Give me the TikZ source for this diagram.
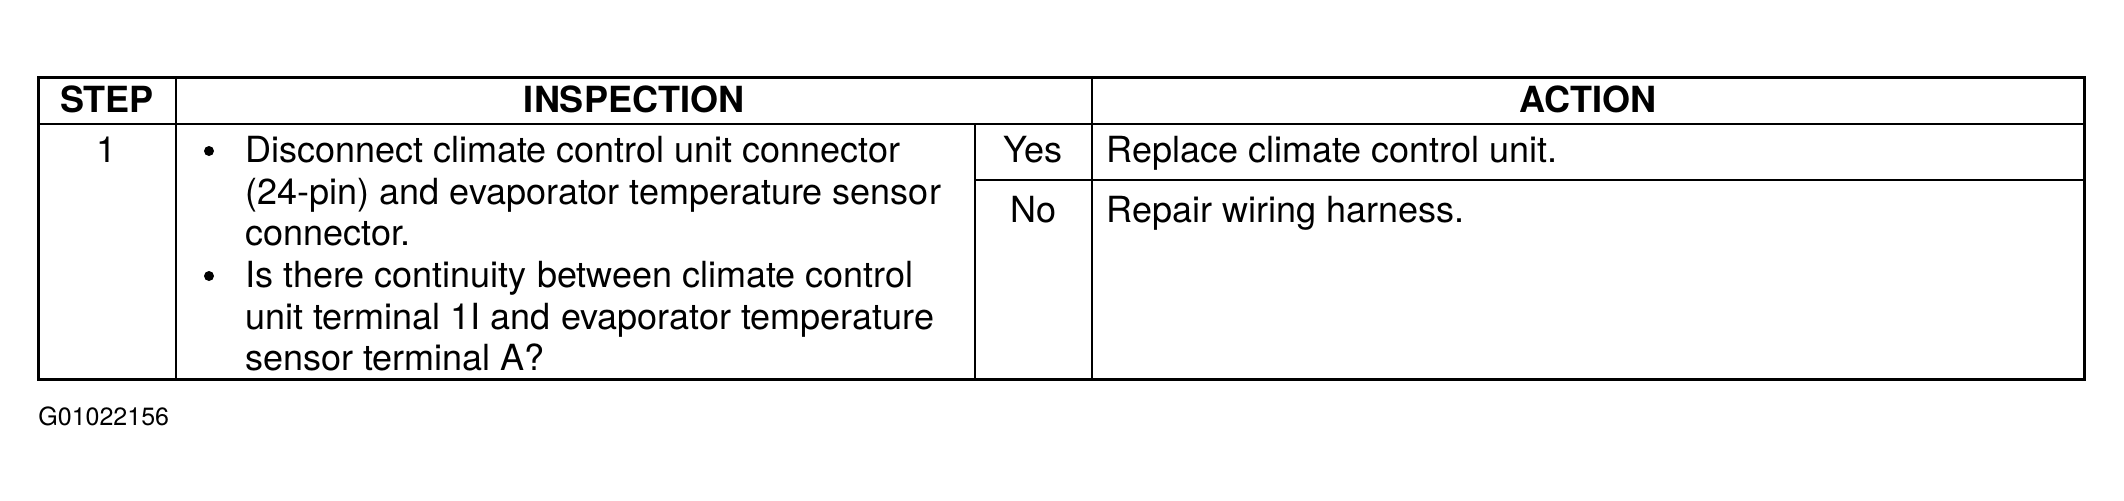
\documentclass[tikz,border=0pt]{standalone}
\usepackage{fontspec}
\setmainfont{TeX Gyre Heros}
\usepackage{tikz}

\begin{document}
\begin{tikzpicture}[x=0.5pt,y=-0.5pt,inner sep=0pt,thin]
                \tikzset{cell/.style={anchor=base, font=\fontsize{18}{20.8}\selectfont},
                         head/.style={cell, font=\fontsize{18}{20.8}\selectfont\bfseries},
                         line/.style={cell, anchor=base west},
                         dot/.style={circle, fill, minimum size=5pt},
                         outer/.style={line width=1.5pt},
                         inner/.style={line width=0.8pt}}
                \useasboundingbox (0,0) rectangle (2124,500);
                \draw[outer] (38,77) rectangle (2084,379);
                \draw[inner, line width=1.2pt] (38,124) -- (2084,124);
                \draw[inner] (176,77) -- (176,379);
                \draw[inner] (1092,77) -- (1092,379);
                \draw[inner] (975,124) -- (975,379);
                \draw[inner, line width=1pt] (975,180) -- (2084,180);
                \node[head] (S) at (107,112) {STEP};
                \node[head] (I) at (634,112) {INSPECTION};
                \node[head] (A) at (1588,112) {ACTION};
                \node[cell] (N) at (107,162) {1};
                \node[dot] (B1) at (209,151) {};
                \node[line] (L1) at (245,162) {Disconnect climate control unit connector};
                \node[line] (L2) at (245,204) {(24-pin) and evaporator temperature sensor};
                \node[line] (L3) at (245,245) {connector.};
                \node[dot] (B2) at (209,276) {};
                \node[line] (L4) at (245,287) {Is there continuity between climate control};
                \node[line] (L5) at (245,329) {unit terminal 1I and evaporator temperature};
                \node[line] (L6) at (245,370) {sensor terminal A?};
                \node[cell] (Y) at (1033,162) {Yes};
                \node[cell] (No) at (1033,222) {No};
                \node[line] (R1) at (1106,162) {Replace climate control unit.};
                \node[line] (R2) at (1106,222) {Repair wiring harness.};
                \node[line, font=\fontsize{12.5}{15}\selectfont] (G) at (38,425) {G01022156};
            \end{tikzpicture}
\end{document}
